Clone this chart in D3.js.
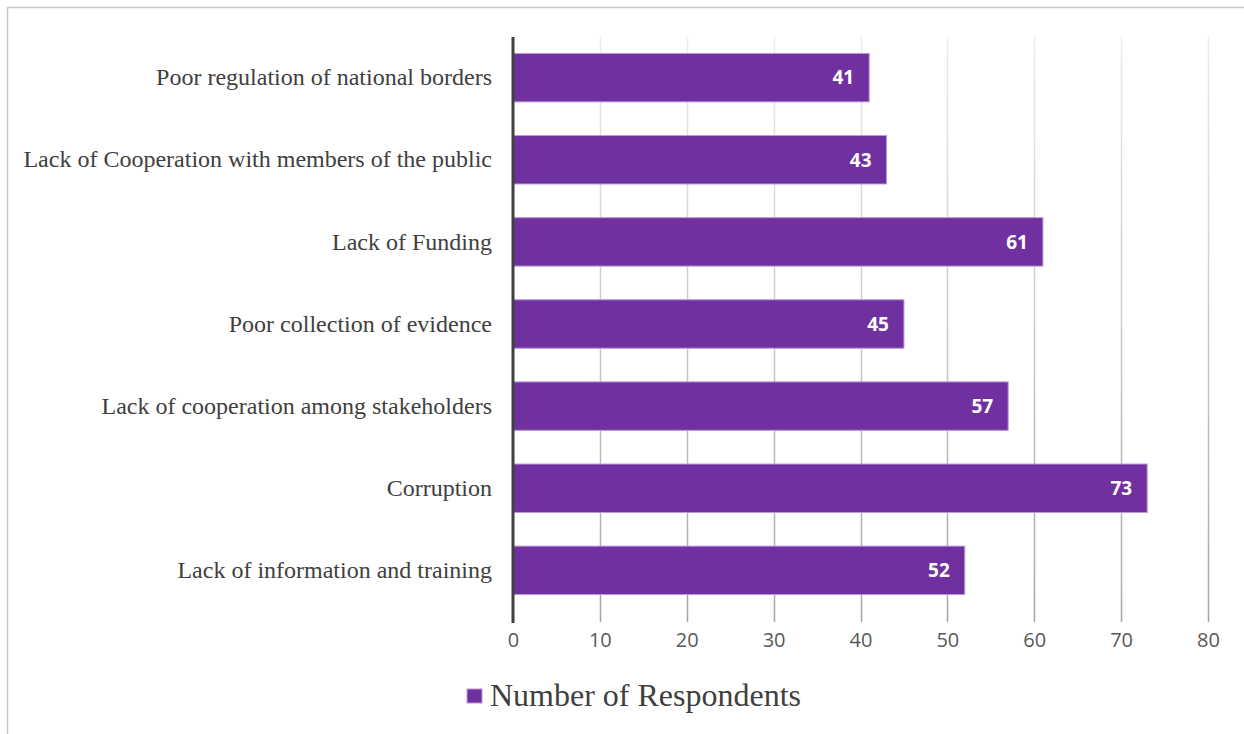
<!DOCTYPE html>
<html lang="en">
<head>
	<meta charset="UTF-8">
	<title>Number of Respondents</title>
	<script type="text/javascript" src="https://cdn.jsdelivr.net/npm/d3@7/dist/d3.min.js"></script>
	<style>
		body { margin: 0; background: #fff; }
		svg text { font-family: "Open Sans"; }
		.cat text { font-family: "Liberation Serif"; }
	</style>
</head>
<body>
<div id="viz"></div>
<script type="text/javascript">
	var categories = [
		'Poor regulation of national borders',
		'Lack of Cooperation with members of the public',
		'Lack of Funding',
		'Poor collection of evidence',
		'Lack of cooperation among stakeholders',
		'Corruption',
		'Lack of information and training'
	];
	var values = [41, 43, 61, 45, 57, 73, 52];
	var xTicks = [0, 10, 20, 30, 40, 50, 60, 70, 80];
	var seriesName = 'Number of Respondents';

	var W = 1244, H = 734;
	var margin = {top: 37, left: 513, right: 36, bottom: 123};
	var width = W - margin.left - margin.right;
	var height = H - margin.top - margin.bottom;
	var purple = '#7030a0';

	var svg = d3.select('#viz').append('svg')
		.attr('width', W)
		.attr('height', H);

	// chart frame (runs off the right and bottom)
	svg.append('rect')
		.attr('x', 7.5).attr('y', 7.5)
		.attr('width', W + 10).attr('height', H + 10)
		.attr('fill', 'none')
		.attr('stroke', '#c8c8c8')
		.attr('stroke-width', 1.5);

	var defs = svg.append('defs');
	var grad = defs.append('linearGradient')
		.attr('id', 'gridGrad')
		.attr('gradientUnits', 'userSpaceOnUse')
		.attr('x1', 0).attr('y1', 0).attr('x2', 0).attr('y2', height + 12);
	grad.append('stop').attr('offset', '0%').attr('stop-color', '#ececec');
	grad.append('stop').attr('offset', '100%').attr('stop-color', '#a6a6a6');

	var g = svg.append('g')
		.attr('transform', 'translate(' + margin.left + ',' + margin.top + ')');

	var x = d3.scaleLinear().domain([0, 80]).range([0, width]);
	var y = d3.scaleBand().domain(categories).range([0, height]).paddingInner(0.41).paddingOuter(0.2);

	// gridlines
	g.append('g').attr('class', 'grid')
		.selectAll('line')
		.data(xTicks.slice(1))
		.enter().append('line')
		.attr('x1', function (d) { return Math.round(x(d)) + 0.5; })
		.attr('x2', function (d) { return Math.round(x(d)) + 0.5; })
		.attr('y1', 0)
		.attr('y2', height + 11)
		.attr('stroke', 'url(#gridGrad)')
		.attr('stroke-width', 1.5);

	// x axis labels
	var xAxis = d3.axisBottom(x).tickValues(xTicks).tickSize(0).tickPadding(22);
	var gx = g.append('g')
		.attr('transform', 'translate(0,' + height + ')')
		.call(xAxis);
	gx.select('.domain').remove();
	gx.selectAll('text')
		.attr('fill', '#595959')
		.style('font-size', '20px');

	// bars
	g.selectAll('.bar')
		.data(values)
		.enter().append('rect')
		.attr('class', 'bar')
		.attr('x', 0)
		.attr('y', function (d, i) { return y(categories[i]); })
		.attr('width', function (d) { return x(d); })
		.attr('height', y.bandwidth())
		.attr('fill', purple)
		.attr('stroke', '#b99ad6')
		.attr('stroke-width', 1);

	g.selectAll('.val')
		.data(values)
		.enter().append('text')
		.attr('class', 'val')
		.attr('x', function (d) { return x(d) - 15; })
		.attr('y', function (d, i) { return y(categories[i]) + y.bandwidth() / 2; })
		.attr('dy', '0.36em')
		.attr('text-anchor', 'end')
		.attr('fill', '#fff')
		.style('font-size', '19px')
		.style('font-weight', 'bold')
		.text(function (d) { return d; });

	// category axis
	var yAxis = d3.axisLeft(y).tickSize(0).tickPadding(21);
	var gy = g.append('g').attr('class', 'cat').call(yAxis);
	gy.select('.domain').remove();
	gy.selectAll('text')
		.attr('fill', '#404040')
		.style('font-size', '24px');

	g.append('line')
		.attr('x1', 0).attr('x2', 0)
		.attr('y1', 0).attr('y2', height + 12)
		.attr('stroke', '#404040')
		.attr('stroke-width', 3);

	// legend
	var legend = svg.append('g').attr('transform', 'translate(467,689)');
	legend.append('rect')
		.attr('width', 15).attr('height', 14)
		.attr('fill', purple)
		.attr('stroke', '#b99ad6')
		.attr('stroke-width', 1);
	legend.append('text')
		.attr('x', 23).attr('y', 17)
		.attr('fill', '#404040')
		.style('font-family', 'Liberation Serif')
		.style('font-size', '32px')
		.text(seriesName);
</script>
</body>
</html>
